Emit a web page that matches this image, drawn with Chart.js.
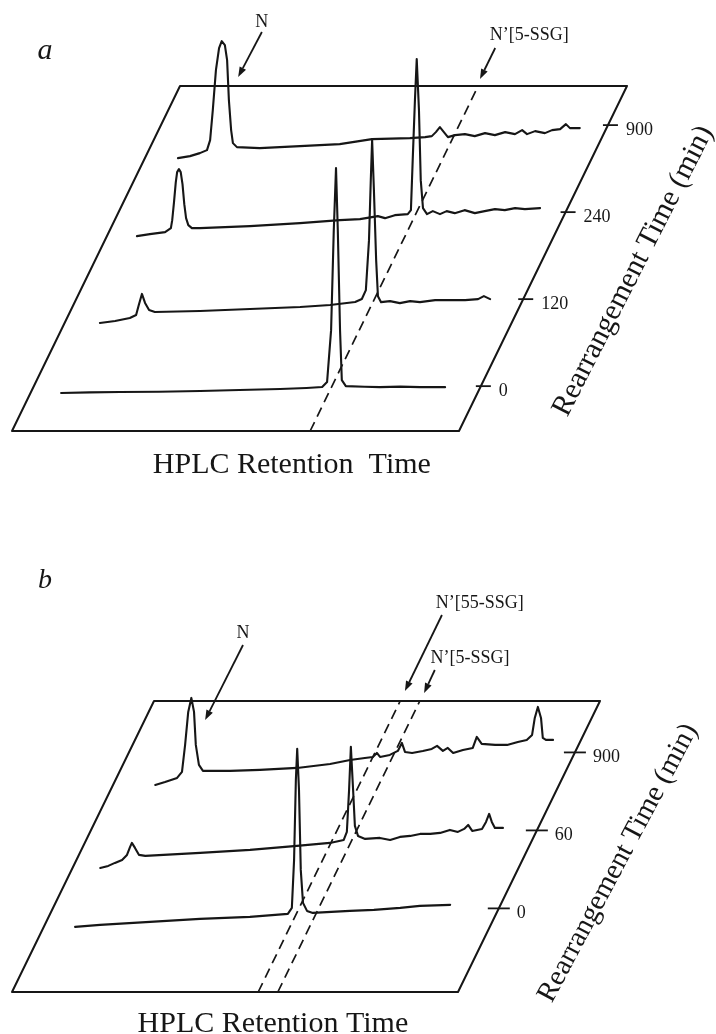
<!DOCTYPE html>
<html><head><meta charset="utf-8">
<script src="https://cdn.jsdelivr.net/npm/chart.js@4.4.1/dist/chart.umd.min.js"></script>
<style>
html,body{margin:0;padding:0;background:#fff;}
#wrap{position:relative;width:716px;height:1034px;overflow:hidden;}
canvas{position:absolute;left:0;}
#ca{top:0;} #cb{top:500px;}
</style></head><body>
<div id="wrap"><canvas id="ca" width="716" height="500"></canvas><canvas id="cb" width="716" height="534"></canvas></div>
<script>
// ---------------- DATA ----------------
// Panel a: rearrangement times (min) shown along the depth axis
const levelsA = [0, 120, 240, 900];
// retention time (% of window) and detector signal (a.u.) for each chromatogram
const a0_rt  = [6.1,12.5,19.3,28,37.2,46,55.1,61,64.5,65.6,66.5,67.1,67.6,68.0,68.5,68.9,69.8,74,77.4,82,86.4,92.0];
const a0_sig = [-6.9,-6.2,-5.9,-5.6,-4.9,-3.8,-2.9,-1.8,-0.9,4.1,56,156,218,156,56,6,0,-0.6,-1,-0.5,-1,-1];
const a120_rt  = [5.3,8.7,12.0,13.4,14.0,14.7,15.4,16.3,17.6,27.7,38.9,50.1,56.8,62.4,63.9,64.8,65.5,65.9,66.2,66.6,67.1,67.5,68.2,70.2,72.4,74.7,76.9,80.3,83.6,87.0,89.9,91.2,92.6];
const a120_sig = [-23.8,-21.8,-18.8,-15.8,-5.8,5.2,-3.8,-10.8,-12.8,-11.8,-9.8,-7.8,-5.8,-2.8,0.2,9,59,119,159,109,39,3,-3,-2,-4,-2,-3,-1,-1,-1,0,3,0];
const a240_rt  = [4.1,7.0,10.4,11.7,12.0,12.4,12.8,13.1,13.5,13.9,14.3,14.7,15.1,15.6,16.4,18.2,29.4,40.6,49.5,54.0,58.0,59.6,61.8,64.7,65.4,65.8,66.3,66.7,67.2,67.6,68.1,69.0,70.3,71.9,73.4,75.2,77.4,79.7,81.9,84.2,86.4,88.7,90.9,94.3];
const a240_sig = [-24,-22,-20,-16,-8,10,30,40,43,40,28,8,-6,-13,-16,-16,-14,-11,-8,-7,-4,-6,-3,-2,2,52,112,153,102,32,4,-2,1,-2,1,-1,2,-1,1,3,2,4,3,4];
const a900_rt  = [3.8,6.5,8.7,10.3,11.0,11.6,12.3,13.0,13.6,14.3,14.8,15.2,15.7,16.1,17.0,22.1,31.1,40.0,47.2,55.7,59.1,60.6,61.5,62.4,63.3,64.2,65.8,68.0,70.2,72.5,74.7,77.0,79.2,80.8,81.9,83.7,85.9,87.5,89.3,90.6,91.5,93.7];
const a900_sig = [-33,-31,-28,-25,-15,15,55,77,84,80,65,25,-5,-18,-22,-23,-21,-19,-14,-13,-12,-11,-7,-2,-7,-12,-10,-9,-11,-8,-10,-7,-9,-5,-9,-6,-8,-5,-4,1,-3,-3];
const markersA_rt = [66.7];
const markersA_label = ["N\u2019[5-SSG]"];

// Panel b
const levelsB = [0, 60, 900];
const b0_rt  = [5.0,10.6,21.8,33.0,44.2,52.7,53.6,54.1,54.5,54.8,55.2,55.6,56.1,57.0,58.3,66.6,72,77.9,82.3,89.1];
const b0_sig = [-18.5,-16.5,-13.5,-10.5,-8.5,-5.5,0.5,48.5,128.5,159.5,118.5,38.5,5.5,-2.5,-4.5,-2.5,-1.5,0.5,2.5,3.5];
const b60_rt  = [2.1,3.9,5.4,7.0,8.1,8.8,9.2,9.9,10.8,12.2,24.5,35.7,46.2,53.6,56.7,57.4,57.9,58.3,58.8,59.2,59.9,61.5,64.8,67.1,69.3,71.6,73.8,76.1,78.3,80.5,82.3,83.7,84.6,85.5,87.7,88.6,89.3,89.9,90.6,92.4];
const b60_sig = [-37.5,-35.5,-32.5,-29.5,-24.5,-16.5,-12.5,-17.5,-24.5,-25.5,-22.5,-19.5,-15.5,-12.5,-9.5,-1.5,40.5,83.5,40.5,4.5,-5.5,-8.5,-7.5,-9.5,-6.5,-5.5,-3.5,-3.5,-2.5,0.5,-1.5,1.5,5.5,-0.5,1.5,8.5,16.5,8.5,2.5,2.5];
const b900_rt  = [5.9,8.1,10.8,11.9,12.6,13.3,14.0,14.6,15.0,15.7,16.6,22.7,29.4,37.7,45.1,49.6,52.9,54.7,55.6,56.3,58.5,60.3,61.2,61.9,63.5,65.9,67.9,69.1,70.4,71.5,72.7,74.9,77.1,78.0,79.1,82.1,84.8,87.2,89.2,90.4,91.0,91.7,92.4,92.8,93.5,95.1];
const b900_sig = [-32.5,-29.5,-25.5,-19.5,7.5,40.5,54.5,40.5,7.5,-12.5,-18.5,-18.5,-17.5,-15.5,-11.5,-7.5,-5.5,-4.5,-0.5,-4.5,-2.5,1.5,9.5,0.5,-0.5,1.5,3.5,6.5,1.5,4.5,-0.5,2.5,4.5,15.5,8.5,7.5,7.5,10.5,12.5,17.5,34.5,45.5,34.5,14.5,12.5,12.5];
const markersB_rt = [55.2, 59.6];
const markersB_label = ["N\u2019[55-SSG]", "N\u2019[5-SSG]"];

const xTitle = "HPLC Retention Time";
const depthTitle = "Rearrangement Time (min)";

// ---------------- LAYOUT ----------------
const INK = '#161616';
const SERIF = '"Liberation Serif", "Times New Roman", serif';
const geomA = {pxPerRt:4.47, originX:12, originY:431, H:500, depth:345, skew:168, d0:0.130, dStep:0.2522, tickL:-5, tickR:10};
const geomB = {pxPerRt:4.46, originX:12, originY:492, H:534, depth:291, skew:142, d0:0.2873, dStep:0.268, tickL:-11, tickR:11};

function proj(g, rt, d, h){ return {x: rt + (g.skew/g.pxPerRt)*d, y: g.depth*d + h}; }
function depthOf(g, i){ return g.d0 + g.dStep*i; }

const lineBase = {showLine:true, pointRadius:0, borderColor:INK, backgroundColor:INK, fill:false, tension:0, clip:false, borderJoinStyle:'round', borderCapStyle:'round'};

function buildDatasets(g, traces, markers){
  const ds = [];
  // plate
  ds.push(Object.assign({}, lineBase, {borderWidth:2, data:[proj(g,0,0,0),proj(g,100,0,0),proj(g,100,1,0),proj(g,0,1,0),proj(g,0,0,0)]}));
  // marker dashed lines
  markers.forEach(rt => ds.push(Object.assign({}, lineBase, {borderWidth:1.7, borderDash:[10,6], borderCapStyle:'butt', data:[proj(g,rt,0,0),proj(g,rt,1,0)]})));
  // ticks on depth axis
  traces.forEach((t,i) => {
    const d = depthOf(g,i);
    ds.push(Object.assign({}, lineBase, {borderWidth:1.8, borderCapStyle:'butt', data:[proj(g,100+g.tickL/g.pxPerRt,d,0),proj(g,100+g.tickR/g.pxPerRt,d,0)]}));
  });
  // chromatograms
  traces.forEach((t,i) => {
    const d = depthOf(g,i);
    ds.push(Object.assign({}, lineBase, {borderWidth:2.1, data:t.rt.map((r,k)=>proj(g,r,d,t.sig[k]))}));
  });
  return ds;
}

const decor = {
  id:'decor',
  afterDatasetsDraw(chart, args, opts){
    const ctx = chart.ctx, sx = chart.scales.x, sy = chart.scales.y;
    const P = (X,Y) => [sx.getPixelForValue(X), sy.getPixelForValue(Y)];
    ctx.save();
    ctx.fillStyle = INK; ctx.strokeStyle = INK;
    (opts.arrows||[]).forEach(a => {
      const [x1,y1] = P(a.from[0],a.from[1]); const [x2,y2] = P(a.to[0],a.to[1]);
      const ang = Math.atan2(y2-y1, x2-x1), L = 10, W = 3.6;
      const bx = x2 - L*Math.cos(ang), by = y2 - L*Math.sin(ang);
      ctx.lineWidth = 1.8; ctx.beginPath(); ctx.moveTo(x1,y1); ctx.lineTo(bx,by); ctx.stroke();
      ctx.beginPath(); ctx.moveTo(x2,y2);
      ctx.lineTo(bx - W*Math.sin(ang), by + W*Math.cos(ang));
      ctx.lineTo(bx + W*Math.sin(ang), by - W*Math.cos(ang));
      ctx.closePath(); ctx.fill();
    });
    (opts.texts||[]).forEach(t => {
      const [x,y] = P(t.X,t.Y);
      ctx.save(); ctx.translate(x,y); if (t.rot) ctx.rotate(t.rot*Math.PI/180);
      ctx.font = t.font; ctx.textAlign = t.align||'center'; ctx.textBaseline = t.base||'middle';
      ctx.fillText(t.text,0,0); ctx.restore();
    });
    ctx.restore();
  }
};

function tickTexts(g, levels){
  return levels.map((lv,i) => {
    const p = proj(g, 100 + 18/g.pxPerRt, depthOf(g,i), -5);
    return {X:p.x, Y:p.y, text:String(lv), font:'18px '+SERIF, align:'left', base:'middle'};
  });
}

function makeChart(id, g, traces, markers, extra){
  const xmin = -g.originX/g.pxPerRt, xmax = (716-g.originX)/g.pxPerRt;
  return new Chart(document.getElementById(id), {
    type:'scatter',
    data:{datasets: buildDatasets(g, traces, markers)},
    options:{
      responsive:false, animation:false, devicePixelRatio:1, events:[],
      layout:{padding:0},
      plugins:{legend:{display:false}, tooltip:{enabled:false},
        decor:{arrows: extra.arrows, texts: tickTexts(g, extra.levels).concat(extra.texts)}},
      scales:{
        x:{type:'linear', display:false, min:xmin, max:xmax},
        y:{type:'linear', display:false, min:-(g.H-g.originY), max:g.originY}
      }
    },
    plugins:[decor]
  });
}

const tracesA = [
  {rt:a0_rt, sig:a0_sig}, {rt:a120_rt, sig:a120_sig}, {rt:a240_rt, sig:a240_sig}, {rt:a900_rt, sig:a900_sig}
];
const tracesB = [
  {rt:b0_rt, sig:b0_sig}, {rt:b60_rt, sig:b60_sig}, {rt:b900_rt, sig:b900_sig}
];

makeChart('ca', geomA, tracesA, markersA_rt, {
  levels: levelsA,
  arrows:[ {from:[55.9,399], to:[50.6,354]}, {from:[108.1,383], to:[104.7,352]} ],
  texts:[
    {X:7.4, Y:380, text:'a', font:'italic 30px '+SERIF},
    {X:55.9, Y:409, text:'N', font:'18px '+SERIF},
    {X:115.7, Y:396, text:markersA_label[0], font:'18px '+SERIF},
    {X:62.6, Y:-42, text:"HPLC Retention  Time", font:'30px '+SERIF, base:'alphabetic'},
    {X:139.0, Y:160, text:depthTitle, font:'29.5px '+SERIF, rot:-63}
  ]
});

makeChart('cb', geomB, tracesB, markersB_rt, {
  levels: levelsB,
  arrows:[ {from:[51.8,347], to:[43.3,272]}, {from:[96.4,377], to:[88.1,301]}, {from:[94.8,322], to:[92.4,299]} ],
  texts:[
    {X:7.4, Y:411, text:'b', font:'italic 28px '+SERIF},
    {X:51.8, Y:359, text:'N', font:'18px '+SERIF},
    {X:104.9, Y:389, text:markersB_label[0], font:'18px '+SERIF},
    {X:102.7, Y:334, text:markersB_label[1], font:'18px '+SERIF},
    {X:58.5, Y:-40, text:xTitle, font:'30px '+SERIF, base:'alphabetic'},
    {X:135.9, Y:129, text:depthTitle, font:'28.5px '+SERIF, rot:-62}
  ]
});
</script></body></html>
